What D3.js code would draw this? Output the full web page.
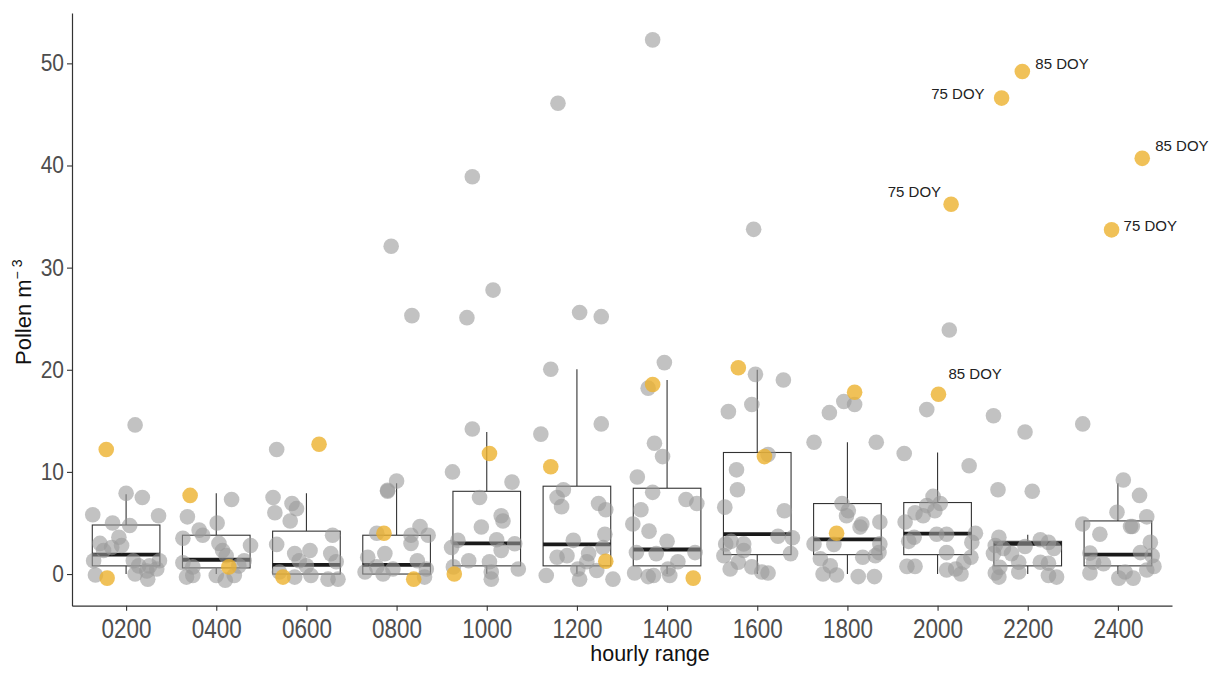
<!DOCTYPE html>
<html>
<head>
<meta charset="utf-8">
<script src="https://cdn.jsdelivr.net/npm/d3@7"></script>
<style>
  body { margin: 0; background: #fff; }
  svg { display: block; font-family: Arial, "Liberation Sans", sans-serif; }
</style>
</head>
<body>
<div id="chart"></div>
<script>
// hourly categories
const hours = ["0200", "0400", "0600", "0800", "1000", "1200", "1400", "1600", "1800", "2000", "2200", "2400"];

// box plot stats per hour
const q1          = [0.8, 0.6, 0.0, 0.0, 0.8, 0.8, 0.8, 1.9, 1.9, 1.9, 0.8, 0.8];
const medians     = [1.9, 1.4, 0.9, 0.9, 3.0, 2.9, 2.4, 3.9, 3.4, 3.95, 2.95, 1.9];
const q3          = [4.8, 3.8, 4.2, 3.8, 8.1, 8.6, 8.4, 11.9, 6.9, 7.0, 3.2, 5.2];
const whiskerLow  = [0, 0, 0, 0, 0, 0, 0, 0, 0, 0, 0, 0];
const whiskerHigh = [7.8, 7.9, 7.9, 8.9, 13.9, 20.05, 19.0, 20.0, 12.9, 11.9, 3.85, 8.9];

// jittered observations: [horizontal jitter (fraction of step), pollen m-3, g = other days / o = highlighted day]
const pts0200 = [[0.10,14.6,"g"],[-0.22,12.2,"o"],[0.00,7.9,"g"],[0.18,7.5,"g"],[-0.37,5.8,"g"],[0.36,5.7,"g"],[-0.15,5.0,"g"],[0.04,4.75,"g"],[-0.08,3.6,"g"],[-0.29,3.0,"g"],[-0.16,2.6,"g"],[-0.05,2.8,"g"],[-0.25,2.3,"g"],[-0.36,1.3,"g"],[0.08,1.3,"g"],[0.14,0.8,"g"],[0.37,1.3,"g"],[0.26,0.8,"g"],[-0.34,-0.1,"g"],[-0.21,-0.4,"o"],[0.10,0,"g"],[0.24,-0.5,"g"],[0.34,0.5,"g"],[0.23,0.3,"g"]];
const pts0400 = [[-0.29,7.7,"o"],[0.17,7.3,"g"],[-0.32,5.6,"g"],[0.01,5.0,"g"],[-0.19,4.3,"g"],[-0.15,3.8,"g"],[-0.37,3.5,"g"],[0.03,3.0,"g"],[0.38,2.8,"g"],[0.07,2.3,"g"],[0.11,1.8,"g"],[-0.37,1.1,"g"],[-0.26,0.7,"g"],[0.14,0.7,"o"],[0.31,1.3,"g"],[0,-0.15,"g"],[0.10,-0.6,"g"],[-0.33,-0.3,"g"],[-0.26,-0.15,"g"],[0.20,-0.15,"g"],[0.25,0.8,"g"]];
const pts0600 = [[-0.33,12.2,"g"],[0.14,12.7,"o"],[-0.37,7.5,"g"],[-0.16,6.9,"g"],[-0.11,6.4,"g"],[-0.35,6.0,"g"],[-0.18,5.2,"g"],[0.29,3.8,"g"],[-0.33,2.9,"g"],[-0.13,2.0,"g"],[0.04,2.3,"g"],[0.27,2.0,"g"],[-0.08,1.3,"g"],[0,0.8,"g"],[0.33,1.2,"g"],[-0.26,-0.3,"o"],[-0.13,-0.3,"g"],[0.05,-0.15,"g"],[0.24,-0.5,"g"],[0.35,-0.5,"g"],[-0.30,0.2,"g"]];
const pts0800 = [[-0.06,32.1,"g"],[0.17,25.3,"g"],[0,9.1,"g"],[-0.1,8.2,"g"],[-0.1,8.1,"g"],[-0.14,4.0,"o"],[-0.22,4.0,"g"],[0.26,4.65,"g"],[0.16,3.8,"g"],[0.35,3.8,"g"],[0.16,3.0,"g"],[-0.13,2.0,"g"],[-0.32,1.65,"g"],[0.23,1.3,"g"],[-0.35,0.2,"g"],[-0.22,0.7,"g"],[-0.15,0,"g"],[-0.04,0.5,"g"],[0.19,-0.5,"o"],[0.33,0.5,"g"],[0.31,-0.3,"g"]];
const pts1000 = [[-0.16,38.9,"g"],[0.07,27.8,"g"],[-0.22,25.1,"g"],[-0.16,14.2,"g"],[0.03,11.8,"o"],[-0.38,10.0,"g"],[0.28,9.0,"g"],[-0.08,7.5,"g"],[0.16,5.7,"g"],[0.18,5.2,"g"],[-0.06,4.6,"g"],[-0.32,3.3,"g"],[0.11,3.35,"g"],[-0.39,2.6,"g"],[0.16,2.3,"g"],[0.31,2.96,"g"],[-0.2,1.3,"g"],[0.03,1.2,"g"],[-0.37,0.7,"g"],[-0.36,0,"o"],[0.05,0.2,"g"],[0.35,0.5,"g"],[0.05,-0.5,"g"]];
const pts1200 = [[-0.21,46.1,"g"],[0.03,25.6,"g"],[0.27,25.2,"g"],[-0.29,20.05,"g"],[0.27,14.7,"g"],[-0.4,13.7,"g"],[-0.29,10.5,"o"],[-0.15,8.25,"g"],[-0.22,7.5,"g"],[-0.17,6.6,"g"],[0.24,6.9,"g"],[0.32,6.3,"g"],[0.31,3.9,"g"],[-0.04,3.3,"g"],[-0.22,1.65,"g"],[-0.11,1.8,"g"],[0.13,2.0,"g"],[0.11,1.2,"g"],[0.29,2.6,"g"],[0.32,1.25,"o"],[-0.34,-0.15,"g"],[0.03,-0.5,"g"],[0.01,0.5,"g"],[0.22,0.35,"g"],[0.40,-0.5,"g"]];
const pts1400 = [[-0.16,52.3,"g"],[-0.03,20.7,"g"],[-0.16,18.55,"o"],[-0.21,18.2,"g"],[-0.14,12.8,"g"],[-0.05,11.5,"g"],[-0.33,9.5,"g"],[-0.16,8.0,"g"],[0.21,7.3,"g"],[0.33,6.9,"g"],[-0.29,6.3,"g"],[-0.38,4.9,"g"],[-0.2,4.2,"g"],[0,3.2,"g"],[-0.34,2.1,"g"],[-0.12,2.0,"g"],[0.31,2.1,"g"],[0.12,1.2,"g"],[0.01,0.5,"g"],[-0.36,0.1,"g"],[-0.21,-0.25,"g"],[-0.15,-0.15,"g"],[0.03,-0.15,"g"],[0.29,-0.4,"o"]];
const pts1600 = [[-0.04,33.75,"g"],[-0.21,20.2,"o"],[-0.02,19.55,"g"],[0.29,19.0,"g"],[-0.06,16.6,"g"],[-0.32,15.9,"g"],[0.08,11.5,"o"],[0.12,11.7,"g"],[-0.23,10.2,"g"],[-0.22,8.25,"g"],[-0.36,6.55,"g"],[0.3,6.2,"g"],[0.23,3.7,"g"],[0.39,3.55,"g"],[-0.29,3.2,"g"],[-0.35,2.95,"g"],[-0.37,1.8,"g"],[-0.15,2.95,"g"],[-0.15,2.3,"g"],[0.37,2.0,"g"],[-0.3,0.5,"g"],[-0.21,1.15,"g"],[-0.06,0.7,"g"],[0.05,0.2,"g"],[0.12,0.1,"g"]];
const pts1800 = [[0.08,17.8,"o"],[-0.04,16.9,"g"],[0.08,16.6,"g"],[-0.2,15.8,"g"],[-0.37,12.9,"g"],[0.32,12.9,"g"],[-0.06,6.9,"g"],[0.01,6.2,"g"],[-0.01,5.7,"g"],[0.16,4.9,"g"],[0.14,4.6,"g"],[0.36,5.1,"g"],[-0.12,4.0,"o"],[-0.37,2.95,"g"],[-0.15,2.9,"g"],[0.36,2.95,"g"],[-0.3,1.5,"g"],[-0.19,0.8,"g"],[0.17,1.65,"g"],[0.31,1.8,"g"],[0.35,2.1,"g"],[-0.27,0,"g"],[-0.12,-0.1,"g"],[0.12,-0.25,"g"],[0.3,-0.25,"g"]];
const pts2000 = [[0.15,36.2,"o"],[0.13,23.9,"g"],[0.01,17.6,"o"],[-0.12,16.1,"g"],[-0.37,11.8,"g"],[0.35,10.6,"g"],[-0.05,7.6,"g"],[0.03,6.9,"g"],[-0.12,6.7,"g"],[-0.03,6.2,"g"],[-0.25,6.0,"g"],[-0.16,5.7,"g"],[-0.36,5.1,"g"],[-0.01,3.9,"g"],[0.1,3.9,"g"],[0.42,4.0,"g"],[-0.26,3.6,"g"],[-0.32,3.2,"g"],[0.38,3.1,"g"],[0.1,2.1,"g"],[0.37,1.65,"g"],[0.29,1.15,"g"],[-0.34,0.75,"g"],[-0.25,0.75,"g"],[0.1,0.4,"g"],[0.2,0.5,"g"],[0.26,0,"g"]];
const pts2200 = [[-0.06,49.2,"o"],[-0.29,46.6,"o"],[-0.38,15.5,"g"],[-0.03,13.9,"g"],[-0.33,8.25,"g"],[0.05,8.1,"g"],[-0.32,3.6,"g"],[0.14,3.35,"g"],[0.23,3.1,"g"],[-0.36,2.8,"g"],[-0.03,2.7,"g"],[-0.27,2.5,"g"],[0.29,2.5,"g"],[-0.38,2.0,"g"],[-0.18,2.0,"g"],[-0.1,1.15,"g"],[0.14,1.15,"g"],[0.23,1.05,"g"],[-0.31,0.65,"g"],[-0.1,0.2,"g"],[-0.36,0.1,"g"],[-0.32,-0.3,"g"],[0.23,-0.15,"g"],[0.32,-0.3,"g"]];
const pts2400 = [[0.27,40.7,"o"],[-0.07,33.7,"o"],[-0.39,14.7,"g"],[0.06,9.2,"g"],[0.24,7.7,"g"],[-0.01,6.05,"g"],[0.32,5.6,"g"],[-0.39,4.9,"g"],[0.14,4.65,"g"],[0.16,4.65,"g"],[-0.2,3.9,"g"],[0.36,3.1,"g"],[0.25,2.1,"g"],[-0.31,2.05,"g"],[0.38,1.8,"g"],[-0.27,1.15,"g"],[-0.16,1.0,"g"],[0.4,0.75,"g"],[0.32,0.4,"g"],[-0.31,0.1,"g"],[0.01,-0.4,"g"],[0.17,-0.4,"g"],[0.08,0.2,"g"]];

// labelled highlighted points
const doyHours  = ["2200", "2200", "2400", "2000", "2400", "2000"];
const doyValues = [49.2, 46.6, 40.7, 36.2, 33.7, 17.6];
const doyTexts  = ["85 DOY", "75 DOY", "85 DOY", "75 DOY", "75 DOY", "85 DOY"];

const yTicks = [0, 10, 20, 30, 40, 50];

// label placement (dx, dy to baseline, anchor)
const labelNudge = [[13, -2.5, "start"], [-17, 0.5, "end"], [13, -7.5, "start"], [-10, -7.5, "end"], [12, 1, "start"], [10, -15, "start"]];

var svgWidth = 1225;
var svgHeight = 676;
var panel = { left: 72, right: 1172, top: 13, bottom: 605.7 };

var svg = d3.select("#chart")
  .append("svg")
  .attr("width", svgWidth)
  .attr("height", svgHeight);

var x = d3.scalePoint()
  .domain(hours)
  .range([panel.left, panel.right])
  .padding(0.6);

var y = d3.scaleLinear()
  .domain([-3.1, 54.93])
  .range([panel.bottom, panel.top]);

var step = x.step();
var boxW = step * 0.75;

var pointsByHour = {
  "0200": pts0200, "0400": pts0400, "0600": pts0600, "0800": pts0800,
  "1000": pts1000, "1200": pts1200, "1400": pts1400, "1600": pts1600,
  "1800": pts1800, "2000": pts2000, "2200": pts2200, "2400": pts2400
};

var points = [];
hours.forEach(function(h) {
  pointsByHour[h].forEach(function(p) {
    points.push({ hour: h, jit: p[0], value: p[1], kind: p[2] });
  });
});

var boxes = hours.map(function(h, i) {
  return { hour: h, q1: q1[i], med: medians[i], q3: q3[i], lo: whiskerLow[i], hi: whiskerHigh[i] };
});

//box plots
var boxG = svg.append("g").selectAll("g")
  .data(boxes)
  .enter()
  .append("g");

boxG.append("line")
  .attr("x1", d => x(d.hour)).attr("x2", d => x(d.hour))
  .attr("y1", d => y(d.q3)).attr("y2", d => y(d.hi))
  .attr("stroke", "#333").attr("stroke-width", 1.1);

boxG.append("line")
  .attr("x1", d => x(d.hour)).attr("x2", d => x(d.hour))
  .attr("y1", d => y(d.q1)).attr("y2", d => y(d.lo))
  .attr("stroke", "#333").attr("stroke-width", 1.1);

boxG.append("rect")
  .attr("x", d => x(d.hour) - boxW / 2)
  .attr("width", boxW)
  .attr("y", d => y(d.q3))
  .attr("height", d => y(d.q1) - y(d.q3))
  .attr("fill", "#fff")
  .attr("stroke", "#333")
  .attr("stroke-width", 1.1);

boxG.append("line")
  .attr("x1", d => x(d.hour) - boxW / 2).attr("x2", d => x(d.hour) + boxW / 2)
  .attr("y1", d => y(d.med)).attr("y2", d => y(d.med))
  .attr("stroke", "#1a1a1a").attr("stroke-width", 3.8);

//points, gray first then highlighted
function cx(d) { return x(d.hour) + d.jit * step; }

svg.append("g").selectAll("circle")
  .data(points.filter(d => d.kind === "g"))
  .enter()
  .append("circle")
  .attr("cx", cx)
  .attr("cy", d => y(d.value))
  .attr("r", 7.8)
  .attr("fill", "#9a9a9a")
  .attr("opacity", 0.6);

svg.append("g").selectAll("circle")
  .data(points.filter(d => d.kind === "o"))
  .enter()
  .append("circle")
  .attr("cx", cx)
  .attr("cy", d => y(d.value))
  .attr("r", 7.8)
  .attr("fill", "#ecb22e")
  .attr("opacity", 0.8);

//DOY labels
var labels = doyTexts.map(function(t, i) {
  var p = points.find(d => d.hour === doyHours[i] && d.value === doyValues[i]);
  return { text: t, pt: p, nudge: labelNudge[i] };
});

svg.append("g").selectAll("text")
  .data(labels)
  .enter()
  .append("text")
  .attr("x", d => cx(d.pt) + d.nudge[0])
  .attr("y", d => y(d.pt.value) + d.nudge[1])
  .attr("text-anchor", d => d.nudge[2])
  .style("font-size", "15px")
  .style("fill", "#222")
  .text(d => d.text);

//axes
var yAxis = svg.append("g")
  .attr("transform", `translate(${panel.left}, 0)`)
  .call(d3.axisLeft(y).tickValues(yTicks).tickSize(5).tickSizeOuter(0));

var xAxis = svg.append("g")
  .attr("transform", `translate(0, ${panel.bottom})`)
  .call(d3.axisBottom(x).tickSize(5).tickSizeOuter(0));

[yAxis, xAxis].forEach(function(ax) {
  ax.select(".domain").attr("stroke", "#333").attr("stroke-width", 1.2);
  ax.selectAll(".tick line").attr("stroke", "#333").attr("stroke-width", 1.1);
  ax.selectAll(".tick text").attr("fill", "#4d4d4d").attr("font-family", null);
});

yAxis.selectAll(".tick text")
  .attr("x", -8)
  .attr("dy", null)
  .attr("y", 0)
  .attr("transform", "translate(0, 7.5) scale(1, 1.15)")
  .style("font-size", "21px");

xAxis.selectAll(".tick text")
  .attr("dy", null)
  .attr("y", 0)
  .attr("transform", "translate(0, 32.5) scale(1, 1.25)")
  .style("font-size", "22.5px");

// axis titles
svg.append("text")
  .attr("x", 650)
  .attr("y", 661)
  .attr("text-anchor", "middle")
  .style("font-size", "21.5px")
  .style("fill", "#111")
  .text("hourly range");

var yTitle = svg.append("text")
  .attr("transform", "translate(31, 365) rotate(-90)")
  .attr("text-anchor", "start")
  .style("font-size", "22px")
  .style("fill", "#111");

yTitle.append("tspan").text("Pollen m");
yTitle.append("tspan")
  .attr("dy", -9)
  .style("font-size", "14px")
  .text("\u2212 3");
</script>
</body>
</html>
